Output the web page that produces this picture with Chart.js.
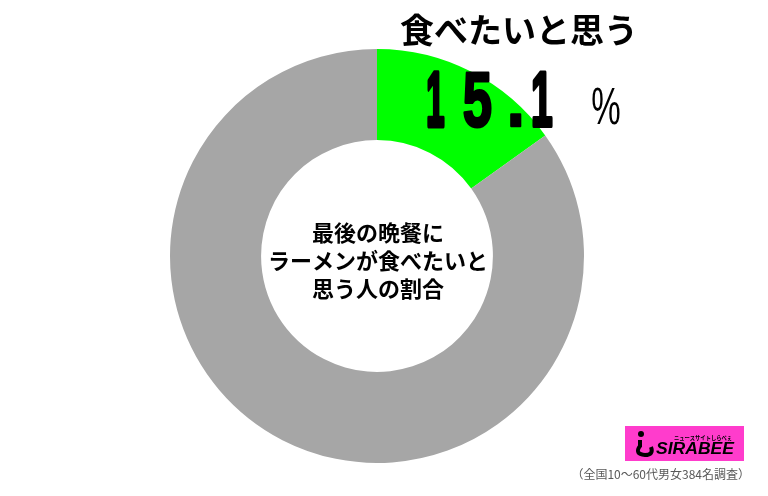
<!DOCTYPE html>
<html>
<head>
<meta charset="utf-8">
<script src="https://cdn.jsdelivr.net/npm/chart.js@4"></script>
<style>
  html, body { margin: 0; padding: 0; background: #fff; }
  #wrap { width: 768px; height: 496px; }
</style>
</head>
<body>
<div id="wrap"><canvas id="donut" width="768" height="496"></canvas></div>
<script>
// data
var categories = ['食べたいと思う', 'その他'];
var values     = [15.1, 84.9];
var colors     = ['#00ff00', '#a6a6a6'];

var titleText  = '食べたいと思う';
var centerText = ['最後の晩餐に', 'ラーメンが食べたいと', '思う人の割合'];
var footerText = '（全国10～60代男女384名調査）';

var JP = '"Noto Sans CJK JP", "Noto Sans", sans-serif';

// draw text squeezed to a given width
function fitText(ctx, str, x, y, w) {
  var m = ctx.measureText(str).width;
  ctx.save();
  ctx.translate(x, y);
  ctx.scale(w / m, 1);
  ctx.fillText(str, 0, 0);
  ctx.restore();
}

// same, but fit the ink of the glyphs between x and x + w (optionally thickened)
function fitInk(ctx, str, x, y, w, extra) {
  var m = ctx.measureText(str);
  var ink = m.actualBoundingBoxLeft + m.actualBoundingBoxRight;
  var pad = extra || 0;
  ctx.save();
  ctx.translate(x + pad / 2, y - pad / 2);
  ctx.scale((w - pad) / ink, 1);
  ctx.fillText(str, m.actualBoundingBoxLeft, 0);
  if (pad) {
    ctx.lineWidth = pad * ink / (w - pad);
    ctx.lineJoin = 'round';
    ctx.strokeStyle = ctx.fillStyle;
    ctx.strokeText(str, m.actualBoundingBoxLeft, 0);
  }
  ctx.restore();
}

var labelsPlugin = {
  id: 'labels',
  afterDraw: function (chart) {
    var ctx = chart.ctx;
    var arc = chart.getDatasetMeta(0).data[0];
    var cx = arc.x;
    ctx.save();
    ctx.fillStyle = '#000';

    // title
    ctx.textAlign = 'center';
    ctx.textBaseline = 'middle';
    ctx.font = 'bold 34px ' + JP;
    ctx.fillText(titleText, 519, 30);

    // big percentage, one glyph at a time (wide spacing in the original)
    ctx.textAlign = 'left';
    ctx.textBaseline = 'alphabetic';
    ctx.font = 'bold 78px "Liberation Sans", Arial, sans-serif';
    var pct = values[0].toFixed(1);
    var slots = [[427, 18], [463, 29], [510, 12], [532, 21]];
    for (var k = 0; k < pct.length; k++) {
      fitInk(ctx, pct[k], slots[k][0], 127, slots[k][1], 2);
    }
    ctx.font = '52px "Liberation Sans", Arial, sans-serif';
    fitInk(ctx, '%', 592, 124, 28, 0);

    // center text
    ctx.textAlign = 'center';
    ctx.textBaseline = 'middle';
    ctx.font = 'bold 22px ' + JP;
    for (var i = 0; i < centerText.length; i++) {
      ctx.fillText(centerText[i], cx + 1, 233 + i * 28);
    }

    // logo
    ctx.fillStyle = '#ff3ccc';
    ctx.fillRect(625, 426, 119, 35);
    ctx.fillStyle = '#000';
    ctx.beginPath();
    ctx.arc(641, 434, 3, 0, Math.PI * 2);
    ctx.fill();
    ctx.lineWidth = 4;
    ctx.strokeStyle = '#000';
    ctx.beginPath();
    ctx.moveTo(640, 440);
    ctx.lineTo(640, 446);
    ctx.quadraticCurveTo(634, 454, 645, 455);
    ctx.quadraticCurveTo(654, 455, 651, 447);
    ctx.stroke();
    ctx.textAlign = 'left';
    ctx.textBaseline = 'alphabetic';
    ctx.font = 'italic bold 16px "Liberation Sans", Arial, sans-serif';
    fitText(ctx, 'SIRABEE', 656, 454, 78);
    ctx.font = 'bold 6px ' + JP;
    fitText(ctx, 'ニュースサイトしらべぇ', 674, 440, 58);

    // footer
    ctx.fillStyle = '#595959';
    ctx.textAlign = 'right';
    ctx.textBaseline = 'middle';
    ctx.font = '12px ' + JP;
    ctx.fillText(footerText, 750, 474);
    ctx.restore();
  }
};

new Chart(document.getElementById('donut').getContext('2d'), {
  type: 'doughnut',
  data: {
    labels: categories,
    datasets: [{
      data: values,
      backgroundColor: colors,
      borderWidth: 0
    }]
  },
  options: {
    responsive: false,
    animation: false,
    cutout: '56%',
    layout: { padding: { left: 170, right: 184, top: 49, bottom: 33 } },
    plugins: {
      legend: { display: false },
      tooltip: { enabled: false }
    }
  },
  plugins: [labelsPlugin]
});
</script>
</body>
</html>
